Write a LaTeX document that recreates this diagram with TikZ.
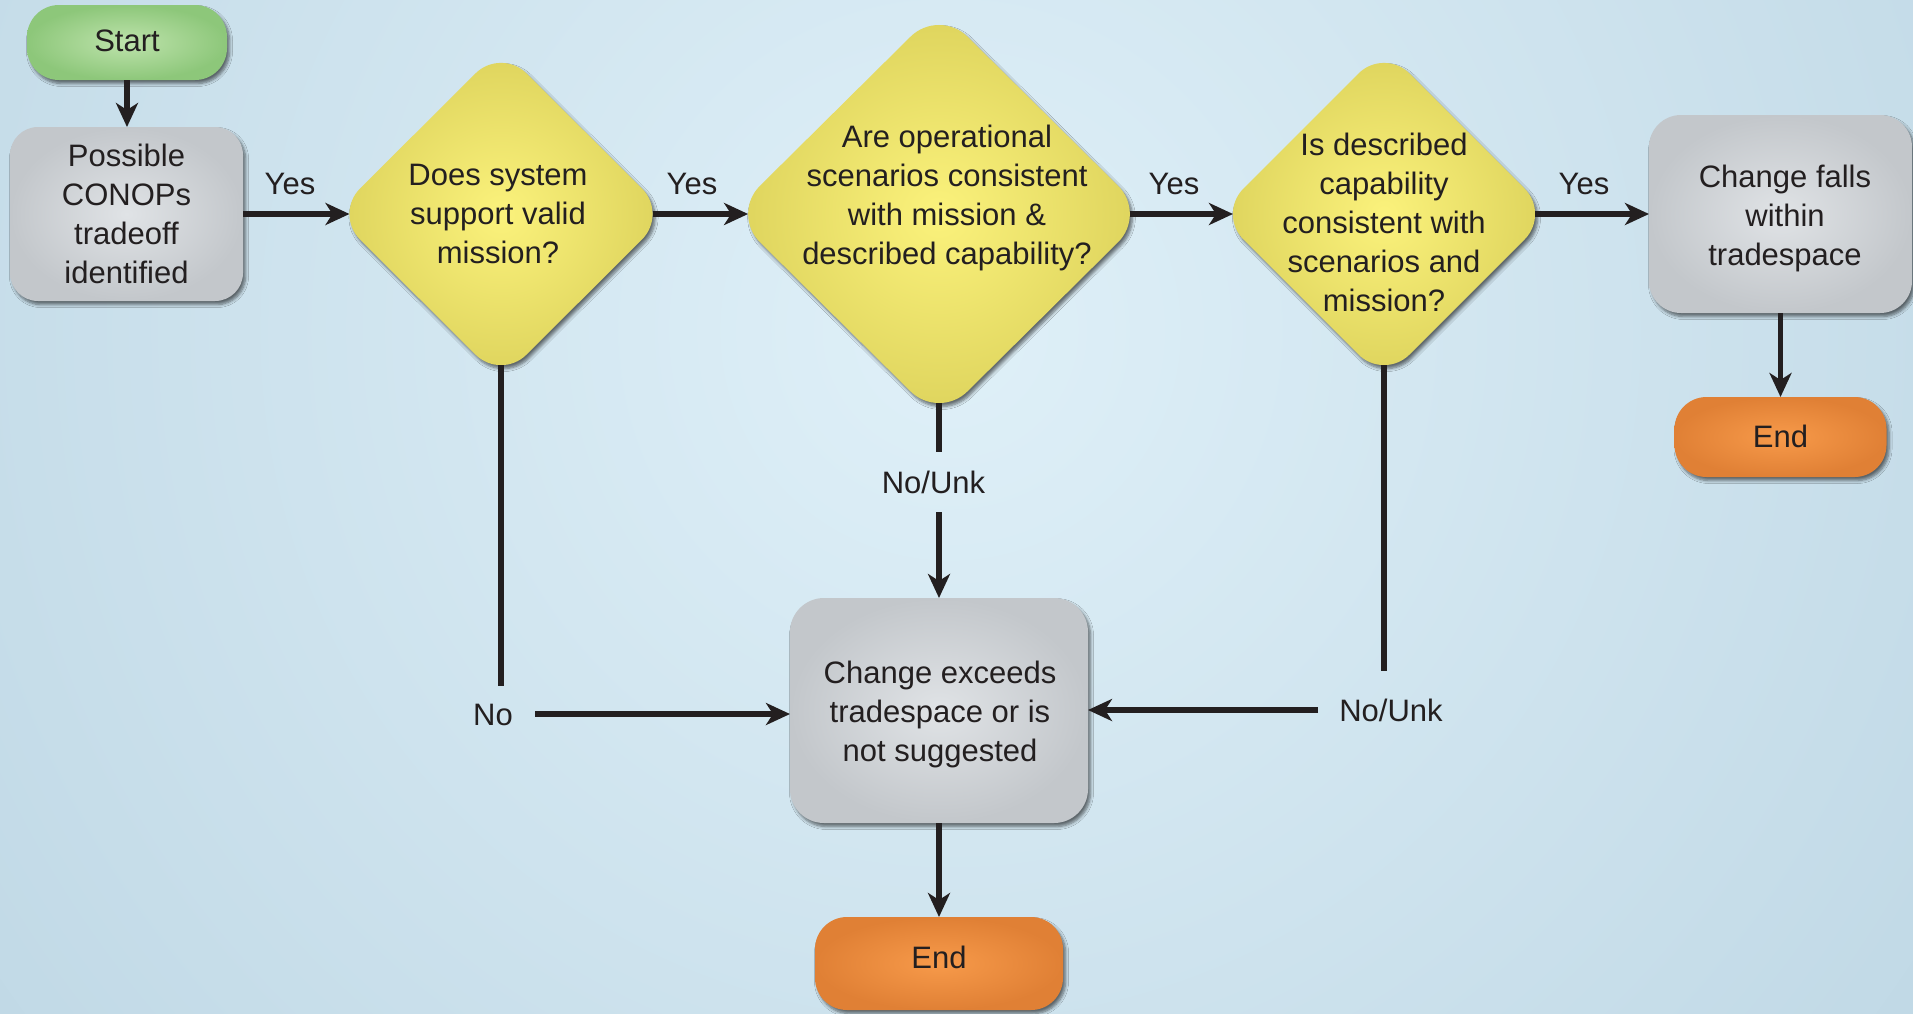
\documentclass[tikz,border=0pt]{standalone}
\usepackage{fontspec}
\setmainfont{Liberation Sans}
\usetikzlibrary{shapes.geometric,arrows.meta,shadows.blur}
\definecolor{bgin}{HTML}{DFF0F8}
\definecolor{bgout}{HTML}{A4C3D5}
\definecolor{ink}{HTML}{231F20}
\definecolor{boxin}{HTML}{E0E3E6}
\definecolor{boxout}{HTML}{C3C7CB}
\definecolor{yelin}{HTML}{FBF27C}
\definecolor{yelout}{HTML}{DDD35C}
\definecolor{grnin}{HTML}{BEE3AC}
\definecolor{grnout}{HTML}{8DC77A}
\definecolor{orgin}{HTML}{F79A4A}
\definecolor{orgout}{HTML}{E08035}
\tikzset{
  base/.style={font=\fontsize{31}{39}\selectfont, text=ink, align=center, inner sep=0pt, outer sep=0pt},
  shad/.style={blur shadow={shadow xshift=2.5pt, shadow yshift=-3.5pt, shadow blur radius=3pt, shadow blur steps=6, shadow opacity=55}},
  box/.style={base, shad, rectangle, rounded corners=30pt, shade, inner color=boxin, outer color=boxout},
  pill/.style={base, shad, rectangle, rounded corners=32pt, shade, text height=22.5pt},
  greenfill/.style={inner color=grnin, outer color=grnout},
  orangefill/.style={inner color=orgin, outer color=orgout},
  dia/.style={shape=diamond, shad, inner sep=0pt, outer sep=0pt, shade, inner color=yelin, outer color=yelout},
  txt/.style={base},
  lbl/.style={base, text height=22.5pt, text depth=0pt},
  arr/.style={draw=ink, line width=5.5pt, -{Stealth[length=24pt,width=22pt,inset=7pt]}},
  ln/.style={draw=ink, line width=5.5pt},
}
\begin{document}
\begin{tikzpicture}[x=1pt,y=-1pt]
\useasboundingbox (0,0) rectangle (1913,1013);
\begin{scope}
  \clip (0,0) rectangle (1913,1013);
  \shade[inner color=bgin, outer color=bgout] (950,330) circle (2300pt);
\end{scope}

% nodes
\node[pill, greenfill, text depth=4pt, minimum width=200pt, minimum height=75pt] (start) at (127,42.5) {Start};
\node[box, rounded corners=28pt, minimum width=233pt, minimum height=174pt] (conops) at (126.5,214) {Possible\\CONOPs\\tradeoff\\identified};
\node[dia, rounded corners=36pt, minimum width=333pt, minimum height=332pt] (d1) at (501,214) {};
\node[txt] (d1t) at (498,214) {Does system\\support valid\\mission?};
\node[dia, rounded corners=40pt, minimum width=415pt, minimum height=411pt] (d2) at (939,214) {};
\node[txt] (d2t) at (947,198) {Are operational\\scenarios consistent\\with mission \&\\described capability?};
\node[dia, rounded corners=36pt, minimum width=332pt, minimum height=332pt] (d3) at (1384,214) {};
\node[txt] (d3t) at (1384,222) {Is described\\capability\\consistent with\\scenarios and\\mission?};
\node[box, rounded corners=32pt, minimum width=263pt, minimum height=198pt] (falls) at (1780.5,214) {};
\node[txt] (fallst) at (1785,218) {Change falls\\within\\tradespace};
\node[pill, orangefill, text depth=2pt, minimum width=212pt, minimum height=80pt] (end1) at (1780.5,437) {End};
\node[box, rounded corners=34pt, minimum width=298pt, minimum height=225pt] (exceeds) at (939,710.5) {};
\node[txt] (exceedst) at (940,714) {Change exceeds\\tradespace or is\\not suggested};
\node[pill, orangefill, text depth=12pt, minimum width=248pt, minimum height=93pt] (end2) at (939,963.5) {End};

% labels
\node[lbl] (y1) at (290,183) {Yes};
\node[lbl] (y2) at (692,183) {Yes};
\node[lbl] (y3) at (1174,183) {Yes};
\node[lbl] (y4) at (1584,183) {Yes};
\node[lbl, minimum width=110pt, minimum height=60pt] (nu1) at (933.5,482) {No/Unk};
\node[lbl, minimum width=84pt, minimum height=56pt] (no) at (493,714) {No};
\node[lbl, minimum width=146pt, minimum height=78pt] (nu2) at (1391,710) {No/Unk};

% connectors
\draw[arr] (start.south) -- (start.south |- conops.north);
\draw[arr, shorten >=-15pt] (conops.east) -- (d1.west);
\draw[arr, shorten <=-15pt, shorten >=-16.6pt] (d1.east) -- (d2.west);
\draw[arr, shorten <=-16.6pt, shorten >=-15pt] (d2.east) -- (d3.west);
\draw[arr, shorten <=-15pt] (d3.east) -- (falls.west);
\draw[arr] (falls.south) -- (end1.north);
\draw[ln, shorten <=-16.6pt] (d2.south) -- (d2.south |- nu1.north);
\draw[arr] (d2.south |- nu1.south) -- (exceeds.north);
\draw[ln, shorten <=-15pt] (d1.south) -- (d1.south |- no.north);
\draw[arr] (no.east) -- (no.east -| exceeds.west);
\draw[ln, shorten <=-15pt] (d3.south) -- (d3.south |- nu2.north);
\draw[arr] (nu2.west) -- (nu2.west -| exceeds.east);
\draw[arr] (exceeds.south) -- (end2.north);
\end{tikzpicture}
\end{document}
